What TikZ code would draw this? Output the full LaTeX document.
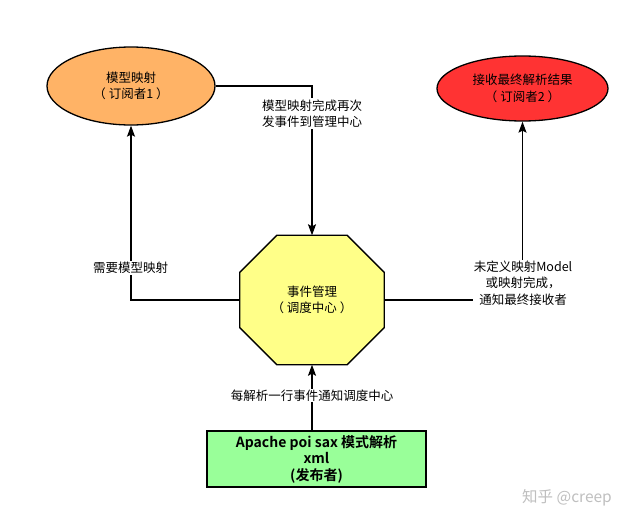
\documentclass[tikz,border=0pt]{standalone}
\usepackage{fontspec}
\setmainfont{Noto Sans CJK SC}[BoldFont={Noto Sans CJK SC Bold}]
\usetikzlibrary{shapes.geometric,arrows.meta}
\definecolor{suborange}{HTML}{FFB366}
\definecolor{subred}{HTML}{FF3333}
\definecolor{hubyellow}{HTML}{FFFF88}
\definecolor{pubgreen}{HTML}{99FF99}
\tikzset{
  subscriber/.style={ellipse, draw=black, line width=1.3pt, align=center, inner sep=0pt},
  edgelabel/.style={fill=white, inner sep=1pt, align=center},
  flow/.style={line width=1.3pt, -{Stealth[length=11pt,width=8pt,inset=2pt]}},
  txt/.style={font=\fontsize{12.5}{16.5}\selectfont}
}
\begin{document}
\begin{tikzpicture}[x=1pt, y=-1pt, txt]
    \fill[white] (0,0) rectangle (640,525);
    \useasboundingbox (0,0) rectangle (640,525);

    % subscribers
    \node[subscriber, fill=suborange, minimum width=168pt, minimum height=78pt] (sub1) at (131,86) {模型映射\\（ 订阅者1 ）};
    \node[subscriber, fill=subred, minimum width=171pt, minimum height=65pt] (sub2) at (522.5,88.5) {接收最终解析结果\\（ 订阅者2 ）};

    % event hub
    \path node[minimum width=144pt, minimum height=129pt, inner sep=0pt] (hub) at (312,300) {};
    \draw[fill=hubyellow, line width=1.3pt]
        ([xshift=37pt]hub.north west) -- ([xshift=-37pt]hub.north east)
        -- ([yshift=-37pt]hub.north east) -- ([yshift=37pt]hub.south east)
        -- ([xshift=-37pt]hub.south east) -- ([xshift=37pt]hub.south west)
        -- ([yshift=37pt]hub.south west) -- ([yshift=-37pt]hub.north west) -- cycle;
    \node[align=center] (hubtext) at (hub) {事件管理\\（ 调度中心 ）};

    % publisher
    \node[draw=black, line width=1.3pt, fill=pubgreen, minimum width=219pt, minimum height=56pt, inner sep=0pt,
          align=center, font=\fontsize{14}{16.5}\selectfont\bfseries] (pub) at (316.5,459) {Apache poi sax 模式解析\\xml\\(发布者)};

    % connectors
    \draw[flow] (hub.west) -| (sub1.south);
    \draw[flow] (sub1.east) -| (hub.north);
    \draw[flow] (hub.east) -| (sub2.south);
    \draw[flow] (pub.north -| hub.south) -- (hub.south);

    % labels
    \node[edgelabel] (need) at (130.5,268) {需要模型映射};
    \node[edgelabel] (again) at (312,113.5) {模型映射完成再次\\发事件到管理中心};
    \node[edgelabel] (notify) at (523,283) {未定义映射Model\\或映射完成，\\通知最终接收者};
    \node[edgelabel] (parse) at (312,395.5) {每解析一行事件通知调度中心};

    \node[text=black!25, font=\fontsize{15.5}{18}\selectfont] (mark) at (567,498) {知乎 @creep};
\end{tikzpicture}
\end{document}
